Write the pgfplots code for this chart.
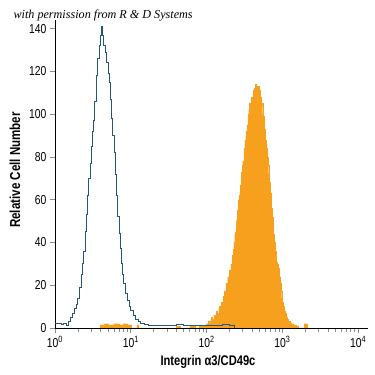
\documentclass[border=0pt]{standalone}
\usepackage{fontspec}
\usepackage{pgfplots}
\pgfplotsset{compat=1.18}
\setmainfont{Liberation Sans}[FakeStretch=0.8]
\newfontfamily\wmfont{Liberation Serif}
\definecolor{blueline}{RGB}{35,85,125}
\definecolor{orangefill}{RGB}{247,160,30}
\definecolor{tickgray}{RGB}{140,140,140}
\begin{document}
\begin{tikzpicture}
\useasboundingbox (0,0) rectangle (375bp,375bp);
\begin{axis}[
  at={(55bp,47bp)}, anchor=south west,
  scale only axis, width=313bp, height=308bp,
  xmode=log, xmin=1, xmax=13500, ymin=0, ymax=144,
  axis x line*=bottom, axis y line*=left,
  axis line style={black, line width=0.8bp, -},
  xtick={1,10,100,1000,10000},
  xticklabels={10\textsuperscript{0},10\textsuperscript{1},10\textsuperscript{2},10\textsuperscript{3},10\textsuperscript{4}},
  minor xtick={2,3,4,5,6,7,8,9,20,30,40,50,60,70,80,90,200,300,400,500,600,700,800,900,2000,3000,4000,5000,6000,7000,8000,9000},
  ytick={0,20,40,60,80,100,120,140},
  tick style={tickgray, line width=0.6bp},
  major tick length=5bp, minor tick length=4bp,
  tick align=outside,
  ticklabel style={font=\fontsize{13}{13}\selectfont},
  yticklabel style={/pgf/number format/assume math mode=true},
]
\addplot[const plot, fill=orangefill, draw=orangefill, line width=0.3bp] table {
x y
3.9 1.5
4.5 2
5 1.5
6 2
7 1.5
8 2
9 1.5
10 0
12 1.5
12.5 0
40 1
45 0
60 1
70 0
80 1.5
90 1
100 2
105 3
110 2
115 5
120 4
125 6
130 5
135 8
140 7
145 10
150 9
155 12
160 11
165 15
170 17
175 16
180 21
185 19
190 24
195 22
200 27
205 25
210 30
215 29
220 34
225 37
230 40
235 44
240 45
245 50
250 51
255 55
260 56
265 60
270 62
275 64
280 67
285 72
290 73
295 76
300 78
310 84
320 88
330 92
340 95
350 100
360 102
370 105
380 104
390 108
400 107
410 111
420 109
430 112
440 114
450 111
460 113
470 110
480 113
490 109
500 111
510 107
520 108
530 104
540 105
550 100
560 99
570 96
580 93
590 92
600 88
615 84
630 80
645 76
660 72
675 68
690 63
705 60
720 56
735 52
750 48
765 44
780 40
800 36
820 33
840 31
860 30
880 28
900 27
920 24
940 21
960 17
980 14
1000 12
1030 10
1060 8
1090 7
1130 5
1170 4
1210 3
1260 2.5
1320 2
1400 1.5
1500 1
1600 0
1900 0
1950 2
2100 0
} \closedcycle;
\addplot[const plot, blueline, line width=0.8bp] table {
x y
1.00 2
1.10 2
1.20 1.5
1.30 2
1.40 1
1.50 3
1.60 5
1.70 7
1.80 9
1.90 11
2.00 14
2.10 19
2.20 25
2.30 30
2.40 36
2.50 45
2.60 53
2.70 62
2.80 70
2.90 77
3.00 85
3.10 92
3.20 97
3.35 106
3.50 118
3.65 126
3.80 132
3.95 137
4.05 140
4.15 141
4.25 137
4.40 132
4.60 129
4.80 124
5.00 119
5.20 115
5.40 107
5.60 98
5.80 90
6.00 82
6.25 72
6.50 62
6.75 52
7.00 44
7.25 37
7.50 30
7.75 25
8.00 21
8.50 16
9.00 13
9.50 10
10.0 8
10.7 6
11.5 4
12.5 3
13.5 2
15 1.5
17 1
20 1
25 1
30 1
40 1.5
50 1
60 1
80 1
100 1
130 1
160 1.5
200 1
230 0
};
\end{axis}
\node[rotate=90, font=\bfseries\fontsize{14.5}{14.5}\selectfont] at (15bp,205bp) {Relative Cell Number};
\node[font=\bfseries\fontsize{14}{14}\selectfont] at (208bp,13bp) {Integrin α3/CD49c};
\node[anchor=base west, font=\wmfont\itshape\fontsize{12.2}{12.2}\selectfont] at (10bp,356bp) {with permission from R \& D Systems};
\end{tikzpicture}
\end{document}
